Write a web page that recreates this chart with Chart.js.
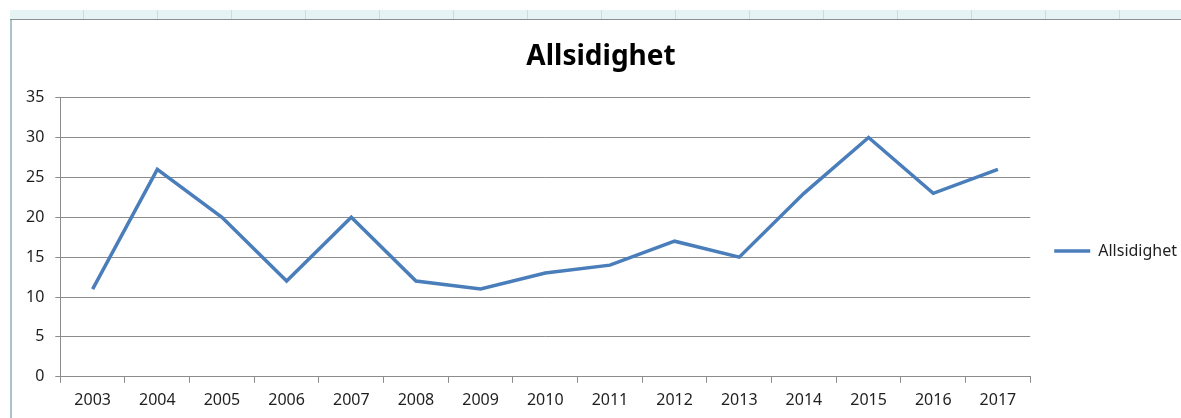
<!DOCTYPE html>
<html>
<head>
<meta charset="utf-8">
<script src="https://cdn.jsdelivr.net/npm/chart.js@4/dist/chart.umd.min.js"></script>
<style>
  html, body { margin: 0; padding: 0; background: #fff; }
  body { width: 1181px; height: 418px; position: relative; overflow: hidden; }
  .strip {
    position: absolute; left: 10px; top: 10px; width: 1171px; height: 9px;
    background: #e6f3f4 repeating-linear-gradient(90deg, transparent 0 73px, #c9dde0 73px 74px);
    border-bottom: 1px solid #8a8f92;
  }
  .frame {
    position: absolute; left: 10px; top: 20px; width: 1171px; height: 398px;
    border-left: 2px solid #a9c2cc; background: #fff;
  }
  #wrap { position: absolute; left: 12px; top: 20px; width: 1175px; height: 398px; }
</style>
</head>
<body>
<div class="strip"></div>
<div class="frame"></div>
<div id="wrap"><canvas id="chart"></canvas></div>
<script>
/* ============================================================
   ALLSIDIGHET
   ============================================================ */

const years = ['2003', '2004', '2005', '2006', '2007', '2008', '2009', '2010',
               '2011', '2012', '2013', '2014', '2015', '2016', '2017'];
const allsidighet = [11, 26, 20, 12, 20, 12, 11, 13, 14, 17, 15, 23, 30, 23, 26];
const seriesName = 'Allsidighet';

const FONT = "'Noto Sans', 'Open Sans', sans-serif";
const INK = '#1f1f1f';
const GRID = '#8c8c8c';

// Excel puts the legend a bit below the middle of the plot
const legendDrop = {
  id: 'legendDrop',
  afterLayout(chart) {
    chart.legend.top += 24;
    chart.legend.bottom += 24;
  }
};

new Chart(document.getElementById('chart').getContext('2d'), {
  type: 'line',
  data: {
    labels: years,
    datasets: [{
      label: seriesName,
      data: allsidighet,
      borderColor: '#4a7ebb',
      backgroundColor: '#4a7ebb',
      borderWidth: 3.5,
      pointRadius: 0,
      pointHoverRadius: 0,
      tension: 0,
      fill: false,
    }]
  },
  options: {
    responsive: true,
    maintainAspectRatio: false,
    animation: false,
    layout: { padding: { left: 3, right: 0, top: 16, bottom: 0 } },
    plugins: {
      title: {
        display: true,
        text: seriesName,
        color: '#000',
        font: { family: FONT, size: 28, weight: 'bold' },
        padding: { top: 4, bottom: 24 }
      },
      legend: {
        position: 'right',
        labels: {
          usePointStyle: true,
          pointStyle: 'line',
          pointStyleWidth: 36,
          color: INK,
          font: { family: FONT, size: 16 },
          padding: 24
        }
      },
      tooltip: { enabled: false }
    },
    scales: {
      x: {
        offset: true,
        grid: { offset: true, drawOnChartArea: false, color: GRID, tickLength: 6 },
        border: { color: GRID },
        ticks: { color: INK, font: { family: FONT, size: 16 }, padding: 8, maxRotation: 0 }
      },
      y: {
        min: 0,
        max: 35,
        grid: { color: GRID, tickLength: 5 },
        border: { color: GRID },
        ticks: { stepSize: 5, color: INK, font: { family: FONT, size: 16 }, padding: 11 }
      }
    }
  },
  plugins: [legendDrop]
});
</script>
</body>
</html>
